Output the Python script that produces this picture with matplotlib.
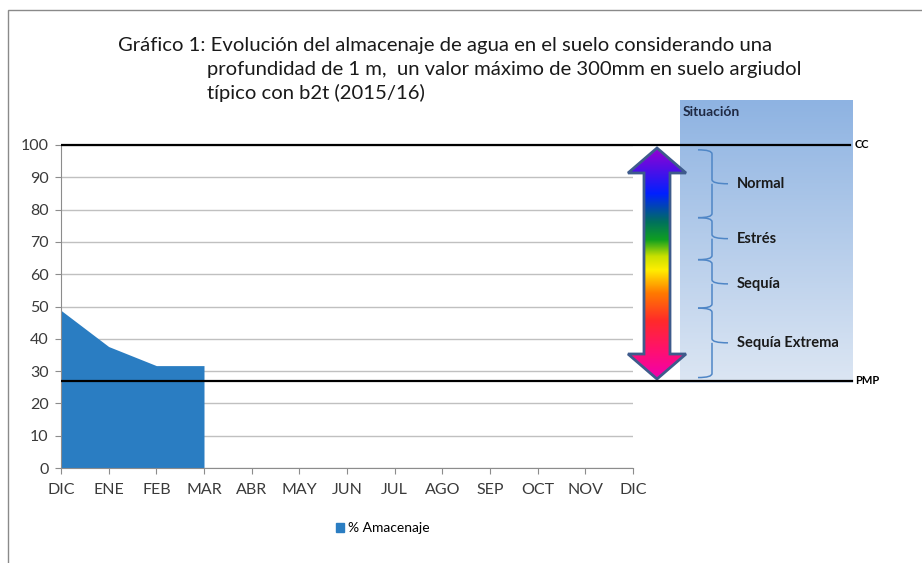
import numpy as np
import matplotlib
matplotlib.use('Agg')
import matplotlib.pyplot as plt
from matplotlib.patches import Polygon, Rectangle, PathPatch, Patch
from matplotlib.path import Path
from matplotlib.colors import LinearSegmentedColormap

plt.rcParams['font.family'] = ['Lato', 'DejaVu Sans']

#%% data
meses = ['DIC', 'ENE', 'FEB', 'MAR', 'ABR', 'MAY', 'JUN', 'JUL', 'AGO', 'SEP', 'OCT', 'NOV', 'DIC']
almacenaje = [48.8, 37.6, 31.7, 31.7]
cc = 100
pmp = 27.0
limites = [98.5, 77.5, 64.5, 49.5, 28.0]
situaciones = ['Normal', 'Estrés', 'Sequía', 'Sequía Extrema']

#%% layout (pixels of a 922x563 figure)
W, H = 922, 563
x0, x12, y0, y100 = 61, 633, 468, 145
sx = (x12 - x0) / 12.0
sy = (y0 - y100) / 100.0

fig = plt.figure(figsize=(W / 100, H / 100), dpi=100)
ax = fig.add_axes([x0 / W, 1 - y0 / H, (x12 - x0) / W, (y0 - y100) / H])

xm = np.arange(len(almacenaje))
ax.fill_between(xm, almacenaje, 0, color='#2A7DC2', lw=0, zorder=2)
ax.set_xlim(0, 12)
ax.set_ylim(0, 100)
ax.set_xticks(range(13))
ax.set_xticklabels(meses)
ax.set_yticks(range(0, 101, 10))
ax.set_axisbelow(True)
ax.grid(axis='y', color='#C0C0C0', lw=1)
for s in ['top', 'right']:
    ax.spines[s].set_visible(False)
for s in ['left', 'bottom']:
    ax.spines[s].set_color('#8C8C8C')
ax.tick_params(colors='#8C8C8C', labelcolor='#3A3A3A', labelsize=11.5, length=4)
ax.tick_params(axis='y', pad=5)
ax.tick_params(axis='x', pad=7)

# overlay axes, same scale but extended to the right / top
xr = (W - x0) / sx
yr = (y0 - 90) / sy
ax2 = fig.add_axes([x0 / W, 1 - y0 / H, (W - x0) / W, (y0 - 90) / H])
ax2.patch.set_alpha(0)
ax2.axis('off')

def px(x):
    return (x - x0) / sx

def py(y):
    return (y0 - y) / sy

# situacion box
grad = np.linspace(0, 1, 256).reshape(-1, 1)
cbox = LinearSegmentedColormap.from_list('box', ['#DCE6F3', '#8EB3E2'])
ax2.imshow(grad, cmap=cbox, origin='lower', aspect='auto',
           extent=[px(680), px(853), py(383), py(100)], zorder=0)
ax2.text(px(683), py(112), 'Situación', fontsize=10, fontweight='bold', color='#1F2A44', va='center')

# CC / PMP lines
ax2.plot([0, px(850)], [cc, cc], color='black', lw=1.6, zorder=5)
ax2.plot([0, px(852)], [pmp, pmp], color='black', lw=1.6, zorder=5)
ax2.text(px(855), cc, 'CC', fontsize=8, fontweight='bold', va='center')
ax2.text(px(855), pmp, 'PMP', fontsize=8, fontweight='bold', va='center')

# rainbow arrow
xc = px(657)
hw, sw = 29 / sx, 13 / sx
yt, ytb, yb, ybb = py(148), py(173), py(379), py(354)
verts = [(xc, yt), (xc + hw, ytb), (xc + sw, ytb), (xc + sw, ybb), (xc + hw, ybb),
         (xc, yb), (xc - hw, ybb), (xc - sw, ybb), (xc - sw, ytb), (xc - hw, ytb)]
arrow = Polygon(verts, closed=True, fc='none', ec='#3E5B8C', lw=2, zorder=4)
ax2.add_patch(arrow)
crain = LinearSegmentedColormap.from_list('rain', [
    (0.0, '#F000B0'), (0.12, '#FF1070'), (0.25, '#FF2A2A'), (0.37, '#FF7A00'),
    (0.47, '#FFEE00'), (0.53, '#C8E000'), (0.60, '#10A020'), (0.68, '#006F5F'),
    (0.80, '#0020FF'), (1.0, '#9A00D0')])
im = ax2.imshow(grad, cmap=crain, origin='lower', aspect='auto',
                extent=[xc - hw, xc + hw, yb, yt], zorder=3)
im.set_clip_path(arrow)

# braces
xl, xs, xt = px(698), px(712), px(728)
d = 4 / sy
for k, lab in enumerate(situaciones):
    ya, yb2 = limites[k], limites[k + 1]
    ymid = (ya + yb2) / 2
    v = [(xl, ya), (xs, ya), (xs, ya - d), (xs, ymid + d), (xs, ymid), (xt, ymid),
         (xs, ymid), (xs, ymid - d), (xs, yb2 + d), (xs, yb2), (xl, yb2)]
    c = [Path.MOVETO, Path.CURVE3, Path.CURVE3, Path.LINETO, Path.CURVE3, Path.LINETO,
         Path.MOVETO, Path.CURVE3, Path.LINETO, Path.CURVE3, Path.CURVE3]
    ax2.add_patch(PathPatch(Path(v, c), fc='none', ec='#4F86C6', lw=1.1, zorder=4))
    ax2.text(px(737), ymid, lab, fontsize=10.5, fontweight='bold', color='#1A1A1A', va='center')

ax2.set_xlim(0, xr)
ax2.set_ylim(0, yr)

# title
tkw = dict(fontsize=14.6, color='#1A1A1A', va='center', ha='left')
fig.text(118 / W, 1 - 46 / H, 'Gráfico 1: Evolución del almacenaje de agua en el suelo considerando una', **tkw)
fig.text(207 / W, 1 - 70 / H, 'profundidad de 1 m,  un valor máximo de 300mm en suelo argiudol', **tkw)
fig.text(207 / W, 1 - 93 / H, 'típico con b2t (2015/16)', **tkw)

# legend
fig.legend(handles=[Patch(color='#2A7DC2', label='% Amacenaje')], loc='center',
           bbox_to_anchor=(383 / W, 1 - 528 / H), frameon=False, fontsize=10,
           handlelength=0.6, handleheight=0.6, handletextpad=0.3)

# outer frame (right and bottom edges fall outside the picture)
fig.patches.append(Rectangle((8 / W, -0.1), 2, 1.1 - 10 / H, transform=fig.transFigure,
                             fill=False, ec='#8A8A8A', lw=1))

fig.savefig('out.png', dpi=100)
